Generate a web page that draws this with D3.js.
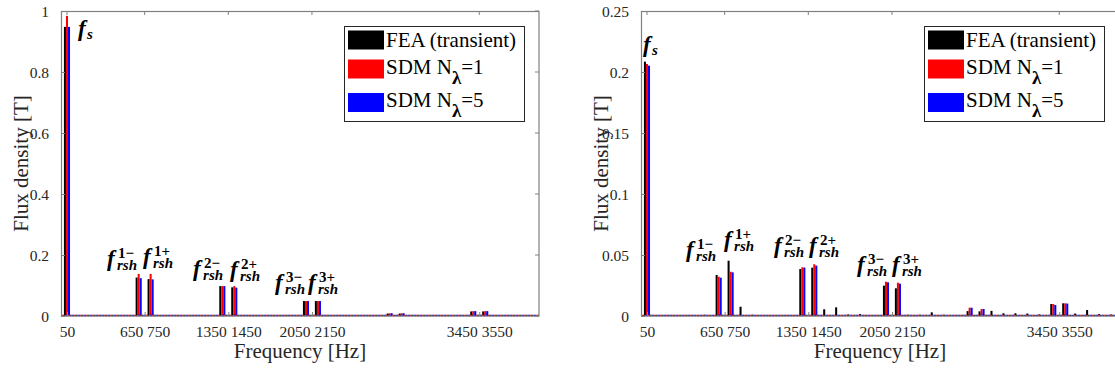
<!DOCTYPE html>
<html><head><meta charset="utf-8">
<script src="https://cdn.jsdelivr.net/npm/d3@7"></script>
<style>body{margin:0;background:#fff}svg{display:block} text{font-family:"Liberation Serif","Tinos","Times New Roman",serif;}</style>
</head><body><svg id="c" width="1115" height="372"></svg>
<script>
// ---------- data ----------
const freqs = [50,150,250,350,450,550,650,750,850,950,1050,1150,1250,1350,1450,1550,1650,1750,1850,1950,
               2050,2150,2250,2350,2450,2550,2650,2750,2850,2950,3050,3150,3250,3350,3450,3550,3650,3750,3850,3950];
const seriesNames = ["FEA (transient)", "SDM N", "SDM N"];
const seriesSubs = ["", "λ", "λ"];
const seriesTails = ["", "=1", "=5"];
const seriesColors = ["#000000", "#ff0000", "#0000ff"];

const feaL  = [0.948,0,0,0,0,0,0.126,0.121,0,0,0,0,0,0.098,0.094,0,0,0,0,0,0.049,0.049,0,0,0,0,0,0.008,0.008,0.003,0.003,0,0,0,0.015,0.015,0.002,0.002,0,0];
const sdm1L = [0.984,0,0,0,0,0,0.138,0.138,0,0,0,0,0,0.098,0.098,0,0,0,0,0,0.049,0.049,0,0,0,0,0,0.009,0.009,0,0,0,0,0,0.016,0.016,0,0,0,0];
const sdm5L = [0.948,0,0,0,0,0,0.124,0.120,0,0,0,0,0,0.098,0.093,0,0,0,0,0,0.049,0.049,0,0,0,0,0,0.009,0.009,0,0,0,0,0,0.016,0.016,0,0,0,0];

const feaR  = [0.2085,0.0008,0.0008,0.0008,0.0008,0.001,0.0336,0.0453,0.0076,0.001,0.0008,0.0008,0.0008,0.0385,0.0396,0.0055,0.0071,0.0012,0.0015,0.0008,
               0.0249,0.0227,0.001,0.001,0.003,0.001,0,0.004,0.0038,0.0042,0.0022,0.0022,0.002,0.0013,0.0098,0.0104,0.002,0.0049,0.0015,0.0012];
const sdm1R = [0.2066,0,0,0,0,0,0.0322,0.0363,0,0,0,0,0,0.0399,0.0424,0,0,0,0,0,0.0281,0.0273,0,0,0,0,0,0.0068,0.0057,0,0,0,0,0,0.0098,0.0104,0,0,0,0];
const sdm5R = [0.2052,0,0,0,0,0,0.0314,0.0358,0,0,0,0,0,0.0397,0.0413,0,0,0,0,0,0.0276,0.0265,0,0,0,0,0,0.0068,0.0057,0,0,0,0,0,0.0090,0.0102,0,0,0,0];

const xDomain = [0, 4000];
const xTickVals = [50, 700, 1400, 2100, 3500];
const xTickLabels = ["50", "650 750", "1350 1450", "2050 2150", "3450 3550"];
const yTicksL = [0, 0.2, 0.4, 0.6, 0.8, 1];
const yTickLabelsL = ["0", "0.2", "0.4", "0.6", "0.8", "1"];
const yTicksR = [0, 0.05, 0.1, 0.15, 0.2, 0.25];
const yTickLabelsR = ["0", "0.05", "0.1", "0.15", "0.2", "0.25"];

// annotations: superscript, subscript, data position (Hz, T)
const annL = [
  {sup:"", sub:"s", f:142, v:0.918},
  {sup:"1−", sub:"rsh", f:385, v:0.164},
  {sup:"1+", sub:"rsh", f:686, v:0.171},
  {sup:"2−", sub:"rsh", f:1105, v:0.130},
  {sup:"2+", sub:"rsh", f:1414, v:0.128},
  {sup:"3−", sub:"rsh", f:1791, v:0.085},
  {sup:"3+", sub:"rsh", f:2067, v:0.085}
];
const annR = [
  {sup:"", sub:"s", f:17, v:0.2165},
  {sup:"1−", sub:"rsh", f:377, v:0.0484},
  {sup:"1+", sub:"rsh", f:695, v:0.0566},
  {sup:"2−", sub:"rsh", f:1113, v:0.0516},
  {sup:"2+", sub:"rsh", f:1406, v:0.0516},
  {sup:"3−", sub:"rsh", f:1808, v:0.0361},
  {sup:"3+", sub:"rsh", f:2100, v:0.0361}
];

// ---------- drawing ----------
const svg = d3.select("#c");
svg.append("rect").attr("width",1115).attr("height",372).attr("fill","#fff");
const TXT = "#262626";
const AX = "#808080";

function drawChart(left, series, yMax, yTicks, yLabels, ann) {
  const W = 478, H = 305, top = 11;
  const x = d3.scaleLinear().domain(xDomain).range([0, W]);
  const y = d3.scaleLinear().domain([0, yMax]).range([H, 0]);
  const g = svg.append("g").attr("transform", `translate(${left},${top})`);

  const bw = 17; // bar width in Hz
  const offsets = [-bw, 0, bw];
  series.forEach((vals, si) => {
    g.append("g").selectAll("rect").data(freqs.map((f,i)=>({f, v: vals[i]})).filter(d=>d.v>0))
      .join("rect")
      .attr("x", d => x(d.f + offsets[si] - bw/2))
      .attr("width", d => x(d.f + bw/2) - x(d.f - bw/2))
      .attr("y", d => y(d.v))
      .attr("height", d => y(0) - y(d.v))
      .attr("fill", seriesColors[si]);
  });
  // dotted zero-bar baseline
  const bl = [["#000",0],["#ff0000",1],["#0000ff",2]];
  bl.forEach(([c,o]) => {
    g.append("line").attr("x1",0).attr("x2",W).attr("y1",y(0)-0.5).attr("y2",y(0)-0.5)
      .attr("stroke",c).attr("stroke-width",1.6).attr("stroke-dasharray","1 2").attr("stroke-dashoffset",-o);
  });

  // axes
  const xa = d3.axisBottom(x).tickValues(xTickVals).tickFormat((d,i)=>xTickLabels[i])
    .tickSizeInner(-4).tickSizeOuter(0).tickPadding(10);
  const gx = g.append("g").attr("transform",`translate(0,${H})`).call(xa);
  const ya = d3.axisLeft(y).tickValues(yTicks).tickFormat((d,i)=>yLabels[i])
    .tickSizeInner(-4).tickSizeOuter(0).tickPadding(12);
  const gy = g.append("g").call(ya);
  [gx, gy].forEach(a => {
    a.attr("font-family", null).attr("font-size", null);
    a.select(".domain").remove();
    a.selectAll(".tick line").attr("stroke", AX);
    a.selectAll("text").style("font-size", "15.5px").attr("fill", TXT);
  });
  gy.selectAll("text").attr("dy","0.36em");
  // mirrored ticks on top/right
  g.append("g").selectAll("line").data(xTickVals).join("line")
    .attr("x1",d=>x(d)).attr("x2",d=>x(d)).attr("y1",0).attr("y2",4).attr("stroke",AX);
  g.append("g").selectAll("line").data(yTicks).join("line")
    .attr("x1",W).attr("x2",W-4).attr("y1",d=>y(d)).attr("y2",d=>y(d)).attr("stroke",AX);
  // box
  g.append("rect").attr("x",0.5).attr("y",0.5).attr("width",W-0.5).attr("height",H-0.5)
    .attr("fill","none").attr("stroke",AX).attr("stroke-width",1.2);

  // axis labels
  g.append("text").attr("x", W/2).attr("y", H + 42).attr("text-anchor","middle")
    .style("font-size","21px").attr("fill",TXT).text("Frequency [Hz]");
  g.append("text").attr("transform",`translate(-33,${H/2}) rotate(-90)`).attr("text-anchor","middle")
    .style("font-size","21px").attr("fill",TXT).text("Flux density [T]");

  // annotations (one text element each: f, superscript, subscript stacked)
  ann.forEach(a => {
    const X = x(a.f), Y = y(a.v);
    const t = g.append("text").attr("x", X).attr("y", Y).attr("fill","#000")
      .attr("font-weight","bold");
    t.append("tspan").style("font-size","23px").attr("font-style","italic").text("f");
    if (a.sup) {
      t.append("tspan").attr("x", X+11).attr("y", Y-8).style("font-size","15px").text(a.sup);
      t.append("tspan").attr("x", X+10).attr("y", Y+4).style("font-size","15px").attr("font-style","italic").text(a.sub);
    } else {
      t.append("tspan").attr("x", X+9).attr("y", Y+3).style("font-size","15px").attr("font-style","italic").text(a.sub);
    }
  });

  // legend
  const lw = 180, lh = 95;
  const lg = g.append("g").attr("transform",`translate(${W-15-lw},15)`);
  lg.append("rect").attr("x",0.5).attr("y",0.5).attr("width",lw).attr("height",lh)
    .attr("fill","#fff").attr("stroke","#262626").attr("stroke-width",1);
  const rowC = [14.5, 43.5, 77];
  seriesNames.forEach((n,i) => {
    lg.append("rect").attr("x",4).attr("y",rowC[i]-10).attr("width",36).attr("height",19)
      .attr("fill",seriesColors[i]);
    const t = lg.append("text").attr("x",42).attr("y",rowC[i]+ (i===0?6.5:4))
      .style("font-size","21px").attr("fill","#000");
    t.append("tspan").text(n);
    if (seriesSubs[i]) {
      t.append("tspan").attr("dy",10).style("font-size","19px").attr("font-weight","bold").text(seriesSubs[i]);
      t.append("tspan").attr("dy",-10).text(seriesTails[i]);
    }
  });
}

drawChart(61, [feaL, sdm1L, sdm5L], 1, yTicksL, yTickLabelsL, annL);
drawChart(641, [feaR, sdm1R, sdm5R], 0.25, yTicksR, yTickLabelsR, annR);
</script>
</body></html>
